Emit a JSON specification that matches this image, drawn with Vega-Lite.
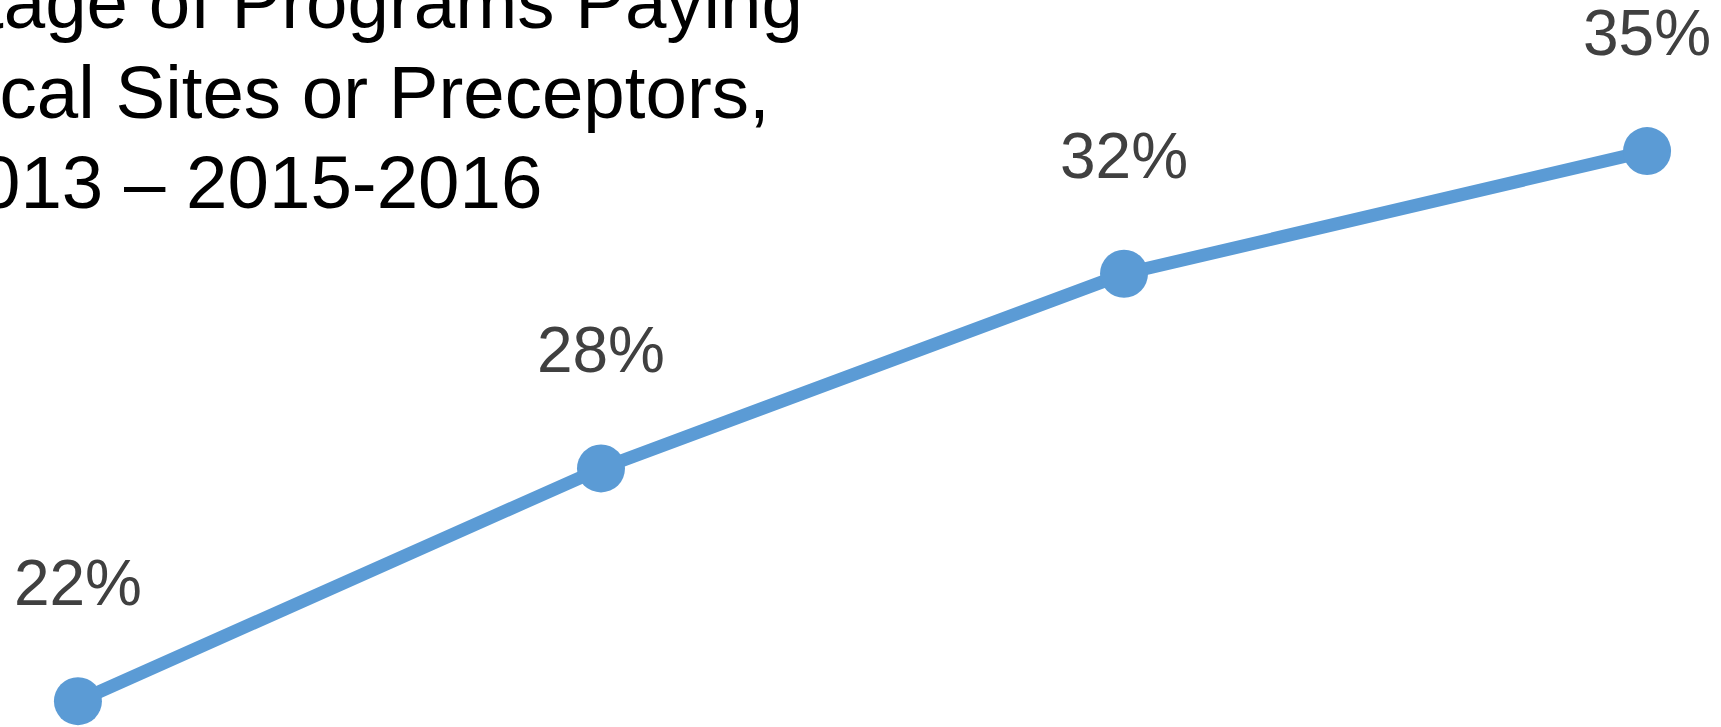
{
  "$schema": "https://vega.github.io/schema/vega-lite/v6.json",
  "width": 1725,
  "height": 727,
  "autosize": {"type": "none"},
  "padding": 0,
  "background": "white",
  "view": {"stroke": null},
  "title": {
    "text": ["Percentage of Programs Paying", "for Clinical Sites or Preceptors,", "2012-2013 – 2015-2016"],
    "anchor": "start",
    "frame": "group",
    "orient": "top",
    "baseline": "alphabetic",
    "font": "Liberation Sans",
    "fontSize": 74.5,
    "fontWeight": "normal",
    "color": "#000000",
    "lineHeight": 90,
    "offset": -282,
    "dx": -253
  },
  "data": {
    "values": [
      {"year": "2012-2013", "pct": 0.222},
      {"year": "2013-2014", "pct": 0.277},
      {"year": "2014-2015", "pct": 0.323},
      {"year": "2015-2016", "pct": 0.352}
    ]
  },
  "encoding": {
    "x": {"field": "year", "type": "ordinal", "sort": null, "scale": {"type": "point", "padding": 0.149}, "axis": null},
    "y": {"field": "pct", "type": "quantitative", "scale": {"domain": [0.2159, 0.3877], "zero": false, "nice": false}, "axis": null}
  },
  "layer": [
    {"mark": {"type": "line", "color": "#5B9BD5", "strokeWidth": 13}},
    {"mark": {"type": "point", "shape": "circle", "filled": true, "opacity": 1, "color": "#5B9BD5", "size": 2304}},
    {
      "mark": {"type": "text", "font": "Liberation Sans", "fontSize": 64, "color": "#404040", "align": "center", "baseline": "alphabetic", "dy": -96},
      "encoding": {"text": {"field": "pct", "type": "quantitative", "format": ".0%"}}
    }
  ]
}
